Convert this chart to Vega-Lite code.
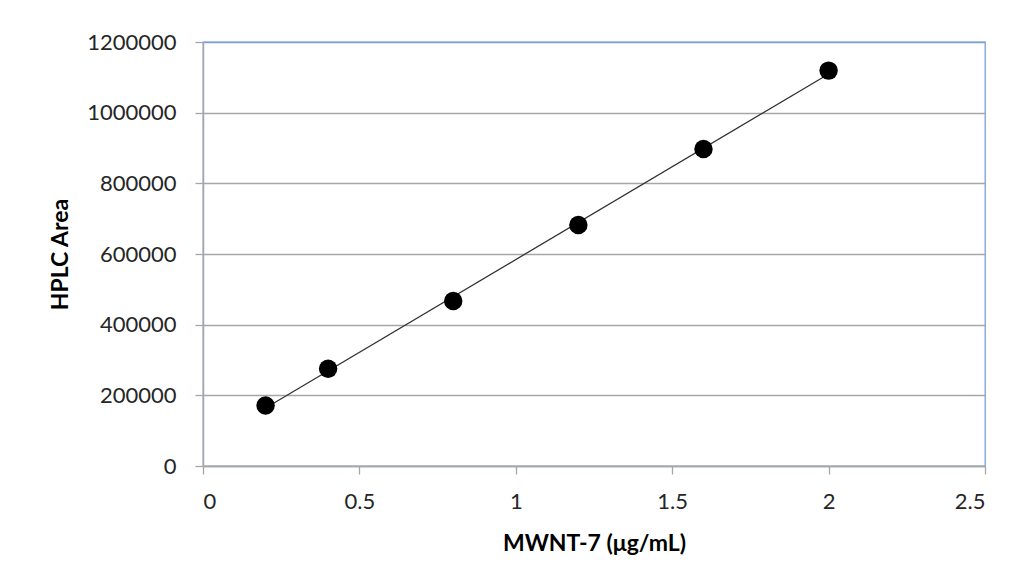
{
  "$schema": "https://vega.github.io/schema/vega-lite/v6.json",
  "autosize": {"type": "none"},
  "width": 782,
  "height": 424,
  "padding": {"left": 203, "top": 42, "right": 35, "bottom": 116},
  "background": "white",
  "config": {
    "view": {"stroke": "#7a9fd6", "strokeWidth": 1.3},
    "font": "Lato"
  },
  "data": {
    "values": [
      {"conc": 0.2, "area": 171000},
      {"conc": 0.4, "area": 275000},
      {"conc": 0.8, "area": 467000},
      {"conc": 1.2, "area": 682000},
      {"conc": 1.6, "area": 897000},
      {"conc": 2.0, "area": 1119000}
    ]
  },
  "encoding": {
    "x": {
      "field": "conc", "type": "quantitative",
      "scale": {"domain": [0, 2.5], "nice": false, "zero": true},
      "axis": {
        "title": "MWNT-7 (μg/mL)", "values": [0, 0.5, 1, 1.5, 2, 2.5],
        "format": "~g", "grid": false,
        "domainColor": "#a6a6a6", "domainWidth": 1.5,
        "tickColor": "#a6a6a6", "tickSize": 8, "tickWidth": 1.3,
        "labelFontSize": 22, "labelColor": "#262626", "labelPadding": 17,
        "titleFontSize": 23, "titleFontWeight": "bold", "titleColor": "#000000", "titlePadding": 20
      }
    },
    "y": {
      "field": "area", "type": "quantitative",
      "scale": {"domain": [0, 1200000], "nice": false},
      "axis": {
        "title": "HPLC  Area", "values": [0, 200000, 400000, 600000, 800000, 1000000, 1200000],
        "format": "d", "grid": true,
        "gridColor": {"condition": {"test": "datum.value >= 1200000", "value": "#7a9fd6"}, "value": "#a6a6a6"},
        "gridWidth": 1.3,
        "domainColor": "#a6a6a6", "domainWidth": 1.5,
        "tickColor": "#a6a6a6", "tickSize": 8, "tickWidth": 1.3,
        "labelFontSize": 22, "labelColor": "#262626", "labelPadding": 19,
        "titleFontSize": 23, "titleFontWeight": "bold", "titleColor": "#000000", "titlePadding": 14
      }
    }
  },
  "layer": [
    {
      "transform": [{"regression": "area", "on": "conc", "method": "linear", "extent": [0.2, 2]}],
      "mark": {"type": "line", "color": "#333333", "strokeWidth": 1.3}
    },
    {
      "mark": {"type": "point", "filled": true, "shape": "circle", "size": 340, "color": "#000000", "opacity": 1}
    }
  ]
}
